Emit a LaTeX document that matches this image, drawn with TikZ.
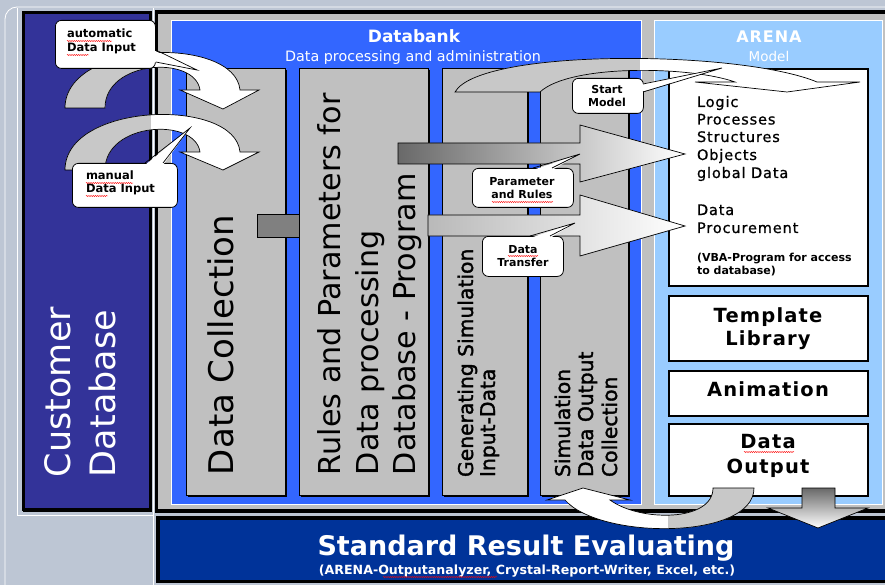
\documentclass[tikz,border=0pt]{standalone}
\usepackage{fontspec}
\setmainfont{DejaVu Sans}
\newfontfamily\trk[LetterSpace=6]{DejaVu Sans}
\newfontfamily\medf[FakeBold=1.6]{DejaVu Sans}
\newfontfamily\medtrk[FakeBold=0.8,LetterSpace=6]{DejaVu Sans}
\usetikzlibrary{decorations.pathmorphing}
\definecolor{bgc}{RGB}{189,198,212}
\definecolor{custblue}{RGB}{51,51,153}
\definecolor{dbblue}{RGB}{51,102,255}
\definecolor{colgrey}{RGB}{192,192,192}
\definecolor{arenablue}{RGB}{153,204,255}
\definecolor{botblue}{RGB}{0,51,153}
\definecolor{arrgrey}{RGB}{200,200,200}
\definecolor{conngrey}{RGB}{128,128,128}
\definecolor{darkgr}{RGB}{105,105,105}
\definecolor{lightgr}{RGB}{185,185,185}
\newcommand{\fsz}[1]{\fontsize{#1pt}{#1pt}\selectfont}
\newcommand{\arcStart}{(455,92) .. controls (480,48) and (740,50) .. (817,82) -- (860,82) -- (787,92) -- (695,82) -- (735,82) .. controls (690,66) and (570,64) .. (540,92) -- cycle}
\newcommand{\arcAuto}{(65,108) .. controls (65,40) and (235,35) .. (240,90) -- (259,90) -- (223,109) -- (180,90) -- (200,90) .. controls (195,55) and (105,60) .. (105,108) -- cycle}
\newcommand{\arcMan}{(65,170) .. controls (65,102) and (235,97) .. (240,152) -- (259,152) -- (223,170) -- (180,152) -- (200,152) .. controls (195,117) and (105,122) .. (105,170) -- cycle}
\newcommand{\arcOut}{(754,488) .. controls (754,540) and (600,540) .. (565,500) -- (547,500) -- (583,488) -- (630,500) -- (610,500) .. controls (640,522) and (713,522) .. (713,488) -- cycle}
\begin{document}
\begin{tikzpicture}[x=1pt,y=-1pt,
  txt/.style={inner sep=0pt, outer sep=0pt},
  column/.style={draw=black, line width=1.3pt, fill=colgrey, anchor=north west, inner sep=0pt},
  callout/.style={draw=black, line width=0.8pt, fill=white, rounded corners=6pt, anchor=north west, inner sep=0pt},
  abox/.style={draw=black, line width=1.8pt, fill=white, anchor=north west, inner sep=0pt},
  outl/.style={draw=black, line width=0.7pt, line join=miter},
  squig/.style={draw=red, line width=0.4pt, decorate, decoration={snake, amplitude=0.6pt, segment length=2.2pt}},
  ]
% ---------------- background
\fill[bgc] (0,0) rectangle (885,585);
\useasboundingbox (0,0) rectangle (885,585);
\draw[white, line width=0.8pt, rounded corners=12pt] (5,600) -- (5,7) -- (900,7);
\draw[white, line width=0.8pt] (17,8) -- (17,515) -- (153,515);
\draw[white, line width=0.8pt] (153,8) -- (153,590);
% ---------------- customer database
\fill[black] (23,13) rectangle (152,512);
\node[draw=black, line width=3pt, fill=custblue, anchor=north west, minimum width=127pt, minimum height=496pt, inner sep=0pt] (cust) at (21.5,11.5) {};
\node[txt, rotate=90, anchor=base west, font=\fsz{35}, text=white] (cust1) at (70,477) {Customer};
\node[txt, rotate=90, anchor=base west, font=\fsz{35}, text=white] (cust2) at (115,477) {Database};
% ---------------- main frame
\fill[black] (155,10) rectangle (890,513);
\fill[colgrey] (158,14) rectangle (890,509);
% ---------------- bottom box
\fill[black] (156,516) rectangle (890,583);
\node[fill=botblue, anchor=north west, minimum width=730pt, minimum height=60pt, inner sep=0pt] (eval) at (160,520) {};
\node[txt, anchor=base, font=\bfseries\fsz{27}, text=white] (evalt) at (526,555) {Standard Result Evaluating};
\node[txt, anchor=base, font=\bfseries\fsz{12.6}, text=white] (evals) at (527,574) {(ARENA-Outputanalyzer, Crystal-Report-Writer, Excel, etc.)};
% ---------------- databank area
\node[draw=white, line width=0.8pt, fill=dbblue, anchor=north west, minimum width=470pt, minimum height=484pt, inner sep=0pt] (dbank) at (171,20) {};
\node[txt, anchor=base, font=\bfseries\fsz{17}, text=white] (dbt) at (414,43) {Databank};
\node[txt, anchor=base, font=\fsz{14.3}, text=white] (dbs) at (413,62) {Data processing and administration};
% ---------------- arena area
\node[draw=white, line width=0.8pt, fill=arenablue, anchor=north west, minimum width=228pt, minimum height=484pt, inner sep=0pt] (arena) at (654,20) {};
\node[txt, anchor=base, font=\trk\bfseries\fsz{16}, text=white] (art) at (769,43) {ARENA};
\node[txt, anchor=base, font=\fsz{13.5}, text=white] (ars) at (769,62) {Model};
% ---------------- columns
\fill[black] (188,70) rectangle (287,497);
\fill[black] (301,70) rectangle (430,497);
\fill[black] (444,70) rectangle (529,497);
\fill[black] (542,70) rectangle (630,497);
\node[column, minimum width=99pt, minimum height=427pt] (c1) at (186,68) {};
\node[column, minimum width=129pt, minimum height=427pt] (c2) at (299,68) {};
\node[column, minimum width=85pt, minimum height=427pt] (c3) at (442,68) {};
\node[column, minimum width=88pt, minimum height=427pt] (c4) at (540,68) {};
\node[txt, rotate=90, anchor=base west, font=\fsz{34}] (c1t) at (233,475) {Data Collection};
\node[txt, rotate=90, anchor=base west, font=\fsz{30.2}] (c2a) at (340,475) {Rules and Parameters for};
\node[txt, rotate=90, anchor=base west, font=\fsz{30.2}] (c2b) at (378,475) {Data processing};
\node[txt, rotate=90, anchor=base west, font=\fsz{30.2}] (c2c) at (415,475) {Database - Program};
\node[txt, rotate=90, anchor=base west, font=\medf\fsz{20.3}] (c3a) at (473,477) {Generating Simulation};
\node[txt, rotate=90, anchor=base west, font=\medf\fsz{20.3}] (c3b) at (495,477) {Input-Data};
\node[txt, rotate=90, anchor=base west, font=\medf\fsz{20.3}] (c4a) at (570,477) {Simulation};
\node[txt, rotate=90, anchor=base west, font=\medf\fsz{20.3}] (c4b) at (593,477) {Data Output};
\node[txt, rotate=90, anchor=base west, font=\medf\fsz{20.3}] (c4c) at (617,477) {Collection};
% connector between column 1 and 2
\node[draw=black, line width=0.7pt, fill=conngrey, anchor=north west, minimum width=42pt, minimum height=23pt, inner sep=0pt] (conn) at (257,214) {};
% ---------------- arena boxes
\node[abox, minimum width=199pt, minimum height=217pt] (amain) at (668,68) {};
\node[abox, minimum width=199pt, minimum height=65pt] (atpl) at (668,295) {};
\node[abox, minimum width=199pt, minimum height=45pt] (aani) at (668,370) {};
\node[abox, minimum width=199pt, minimum height=72pt] (aout) at (668,423) {};
\node[txt, anchor=base west, font=\medtrk\fsz{14.5}] (m1) at (697,107) {Logic};
\node[txt, anchor=base west, font=\medtrk\fsz{14.5}] (m2) at (697,124.5) {Processes};
\node[txt, anchor=base west, font=\medtrk\fsz{14.5}] (m3) at (697,142) {Structures};
\node[txt, anchor=base west, font=\medtrk\fsz{14.5}] (m4) at (697,160) {Objects};
\node[txt, anchor=base west, font=\medtrk\fsz{14.5}] (m5) at (697,178) {global Data};
\node[txt, anchor=base west, font=\medtrk\fsz{14.5}] (m6) at (697,215) {Data};
\node[txt, anchor=base west, font=\medtrk\fsz{14.5}] (m7) at (697,233) {Procurement};
\node[txt, anchor=base west, font=\bfseries\fsz{11}] (m8) at (697,261) {(VBA-Program for access};
\node[txt, anchor=base west, font=\bfseries\fsz{11}] (m9) at (697,274) {to database)};
\node[txt, anchor=base, font=\trk\bfseries\fsz{19.5}] (t1) at (768,322) {Template};
\node[txt, anchor=base, font=\trk\bfseries\fsz{19.5}] (t2) at (768,345) {Library};
\node[txt, anchor=base, font=\trk\bfseries\fsz{19.5}] (an) at (768,396) {Animation};
\node[txt, anchor=base, font=\trk\bfseries\fsz{19.5}] (o1) at (768,448) {Data};
\node[txt, anchor=base, font=\trk\bfseries\fsz{19.5}] (o2) at (768,473) {Output};
% ---------------- gradient block arrows
\draw[outl, left color=darkgr, right color=white] (398,143) -- (580,143) -- (580,125) -- (685,154) coordinate (tipA) -- (580,182) -- (580,164) -- (398,164) -- cycle;
\draw[outl, left color=lightgr, right color=white] (428,215) -- (580,215) -- (580,195) -- (685,226) coordinate (tipB) -- (580,256) -- (580,236) -- (428,236) -- cycle;
% ---------------- Start Model curved arrow
\begin{scope}
  \clip \arcStart;
  \fill[white] (440,40) rectangle (870,100);
  \fill[arrgrey] (440,40) rectangle (640,100);
\end{scope}
\draw[outl] \arcStart;
% ---------------- input curved arrows
\begin{scope}
  \clip \arcAuto;
  \fill[white] (60,30) rectangle (265,115);
  \fill[arrgrey] (60,30) rectangle (151,115);
\end{scope}
\draw[outl] \arcAuto;
\begin{scope}
  \clip \arcMan;
  \fill[white] (60,90) rectangle (265,175);
  \fill[arrgrey] (60,90) rectangle (151,175);
\end{scope}
\draw[outl] \arcMan;
% ---------------- output curved arrow
\begin{scope}
  \clip \arcOut;
  \fill[white] (540,480) rectangle (760,535);
  \fill[arrgrey] (668,480) rectangle (760,535);
\end{scope}
\draw[outl] \arcOut;
% down arrow to evaluation
\draw[outl, top color=darkgr, bottom color=white] (802,488) -- (835,488) -- (835,508) -- (868,508) -- (818,528) coordinate (tipD) -- (768,508) -- (802,508) -- cycle;
% ---------------- callouts
% automatic data input
\node[callout, minimum width=100pt, minimum height=48pt] (cauto) at (55,20) {};
\coordinate (autotip) at (197,70);
\fill[white] (153,50) -- (autotip) -- (153,62) -- cycle;
\draw[outl] (cauto.east |- 0,50) -- (autotip) -- (cauto.east |- 0,62);
\node[txt, anchor=base west, font=\bfseries\fsz{11.5}] (ca1) at (67,38) {automatic};
\node[txt, anchor=base west, font=\bfseries\fsz{11.5}] (ca2) at (67,52) {Data Input};
% manual data input
\node[callout, minimum width=105pt, minimum height=44pt] (cman) at (72,163) {};
\coordinate (mantip) at (190,128);
\fill[white] (145,165) -- (mantip) -- (163,165) -- cycle;
\draw[outl] (145,163) -- (mantip) -- (163,163);
\node[txt, anchor=base west, font=\bfseries\fsz{11.5}] (cm1) at (86,180) {manual};
\node[txt, anchor=base west, font=\bfseries\fsz{11.5}] (cm2) at (86,193) {Data Input};
% start model
\node[callout, minimum width=71pt, minimum height=35pt] (cstart) at (572,78) {};
\coordinate (starttip) at (722,68);
\fill[white] (641,84) -- (starttip) -- (641,92) -- cycle;
\draw[outl] (643,84) -- (starttip) -- (643,92);
\node[txt, anchor=base, font=\bfseries\fsz{11}] (cs1) at (607,94) {Start};
\node[txt, anchor=base, font=\bfseries\fsz{11}] (cs2) at (607,107) {Model};
% parameter and rules
\node[callout, minimum width=101pt, minimum height=39pt] (cpar) at (472,168) {};
\coordinate (partip) at (580,154);
\fill[white] (533,170) -- (partip) -- (552,170) -- cycle;
\draw[outl] (533,168) -- (partip) -- (552,168);
\node[txt, anchor=base, font=\bfseries\fsz{11}] (cp1) at (522,186) {Parameter};
\node[txt, anchor=base, font=\bfseries\fsz{11}] (cp2) at (522,199) {and Rules};
% data transfer
\node[callout, minimum width=81pt, minimum height=40pt] (ctr) at (482,236) {};
\coordinate (trtip) at (575,223);
\fill[white] (530,238) -- (trtip) -- (550,238) -- cycle;
\draw[outl] (530,236) -- (trtip) -- (550,236);
\node[txt, anchor=base, font=\bfseries\fsz{11}] (ct1) at (523,253) {Data};
\node[txt, anchor=base, font=\bfseries\fsz{11}] (ct2) at (523,266) {Transfer};
% ---------------- spell-check underlines
\draw[squig] (67,41) -- (112,41);
\draw[squig] (67,55) -- (89,55);
\draw[squig] (86,183) -- (133,183);
\draw[squig] (86,196) -- (108,196);
\draw[squig] (492,202) -- (553,202);
\draw[squig] (508,256) -- (538,256);
\draw[squig] (744,452) -- (794,452);
\draw[squig] (383,577) -- (497,577);
\end{tikzpicture}
\end{document}
